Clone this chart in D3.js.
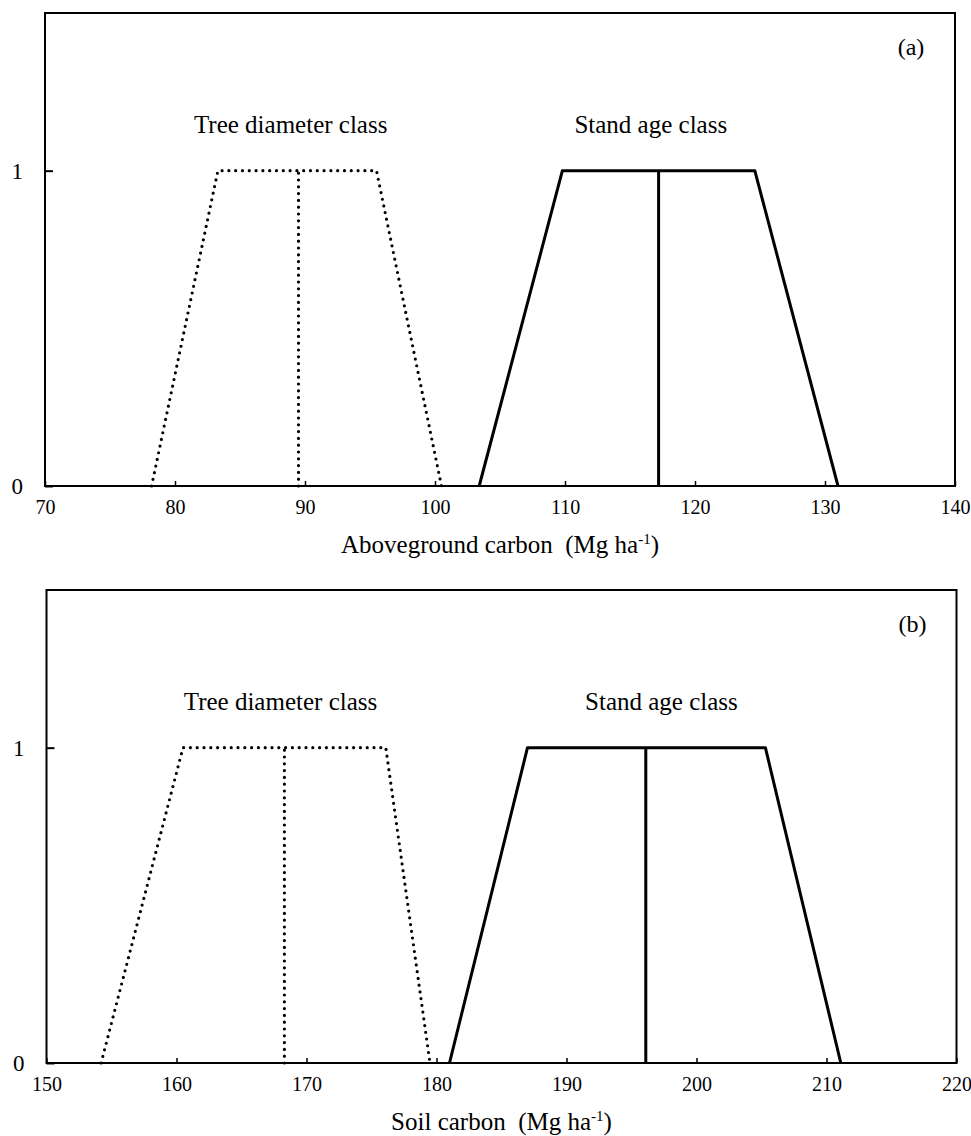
<!DOCTYPE html>
<html>
<head>
<meta charset="utf-8">
<script src="https://cdn.jsdelivr.net/npm/d3@7"></script>
<style>
  body { margin: 0; background: #fff; }
  text { font-family: "Liberation Serif", "Times New Roman", serif; fill: #000; white-space: pre; }
</style>
</head>
<body>
<svg id="chart" width="971" height="1136"></svg>
<script>
// trapezoid membership functions: [bottom-left, top-left, centre, top-right, bottom-right]
const treeA = [78.2, 83.3, 89.5, 95.5, 100.5];
const standA = [103.4, 109.8, 117.2, 124.6, 131.0];
const treeB = [154.2, 160.5, 168.3, 176.1, 179.5];
const standB = [181.0, 187.0, 196.1, 205.3, 211.1];

const xTicksA = [70, 80, 90, 100, 110, 120, 130, 140];
const xTicksB = [150, 160, 170, 180, 190, 200, 210, 220];
const yTicks = [0, 1];
const labels = ["Tree diameter class", "Stand age class"];
const labelPosA = [88.9, 116.6];
const labelPosB = [168.0, 197.3];

const svg = d3.select("#chart");

function drawPanel(cfg) {
  const { left, top, width, height } = cfg;
  const g = svg.append("g").attr("transform", `translate(${left},${top})`);

  const x = d3.scaleLinear().domain(cfg.xDomain).range([0, width]);
  const y = d3.scaleLinear().domain([0, 1.5]).range([height, 0]);

  // inward ticks
  g.append("g")
    .attr("transform", `translate(0,${height})`)
    .call(d3.axisBottom(x).tickValues(cfg.xTicks).tickSizeInner(-5).tickSizeOuter(0).tickPadding(14).tickFormat(d3.format("d")))
    .call(a => a.select(".domain").remove())
    .call(a => a.selectAll("line").attr("stroke-width", 1.5))
    .call(a => a.selectAll("text").style("font-size", "20px").attr("font-family", null));

  g.append("g")
    .call(d3.axisLeft(y).tickValues(yTicks).tickSizeInner(-8).tickSizeOuter(0).tickPadding(22).tickFormat(d3.format("d")))
    .call(a => a.select(".domain").remove())
    .call(a => a.selectAll("line").attr("stroke-width", 2))
    .call(a => a.selectAll("text").style("font-size", "23px").attr("font-family", null));

  // frame
  g.append("rect")
    .attr("width", width).attr("height", height)
    .attr("fill", "none").attr("stroke", "#000").attr("stroke-width", 2);

  const line = d3.line().x(d => x(d[0])).y(d => y(d[1]));
  const shapes = [
    { v: cfg.tree, dotted: true },
    { v: cfg.stand, dotted: false }
  ];
  shapes.forEach(s => {
    const v = s.v;
    const outline = [[v[0], 0], [v[1], 1], [v[3], 1], [v[4], 0]];
    const centre = [[v[2], 0], [v[2], 1]];
    [outline, centre].forEach(pts => {
      const p = g.append("path")
        .attr("d", line(pts))
        .attr("fill", "none")
        .attr("stroke", "#000")
        .attr("stroke-linejoin", "round");
      if (s.dotted) {
        p.attr("stroke-width", 3.2).attr("stroke-linecap", "round").attr("stroke-dasharray", "0,6.8");
      } else {
        p.attr("stroke-width", 3);
      }
    });
  });

  labels.forEach((t, i) => {
    g.append("text")
      .attr("x", x(cfg.labelPos[i]))
      .attr("y", y(1.12))
      .attr("text-anchor", "middle")
      .style("font-size", "25px")
      .text(t);
  });

  g.append("text")
    .attr("x", width - 44)
    .attr("y", 42)
    .attr("text-anchor", "middle")
    .style("font-size", "24px")
    .text(cfg.tag);

  const title = g.append("text")
    .attr("x", width / 2)
    .attr("y", height + 67)
    .attr("text-anchor", "middle")
    .style("font-size", "25px");
  title.append("tspan").text(cfg.title + "  (Mg ha");
  title.append("tspan").attr("dy", -9).style("font-size", "15px").text("-1");
  title.append("tspan").attr("dy", 9).text(")");
}

drawPanel({
  left: 45, top: 13, width: 910, height: 473,
  xDomain: [70, 140], xTicks: xTicksA,
  tree: treeA, stand: standA, labelPos: labelPosA,
  tag: "(a)", title: "Aboveground carbon"
});

drawPanel({
  left: 46.5, top: 590, width: 910, height: 473,
  xDomain: [150, 220], xTicks: xTicksB,
  tree: treeB, stand: standB, labelPos: labelPosB,
  tag: "(b)", title: "Soil carbon"
});
</script>
</body>
</html>
